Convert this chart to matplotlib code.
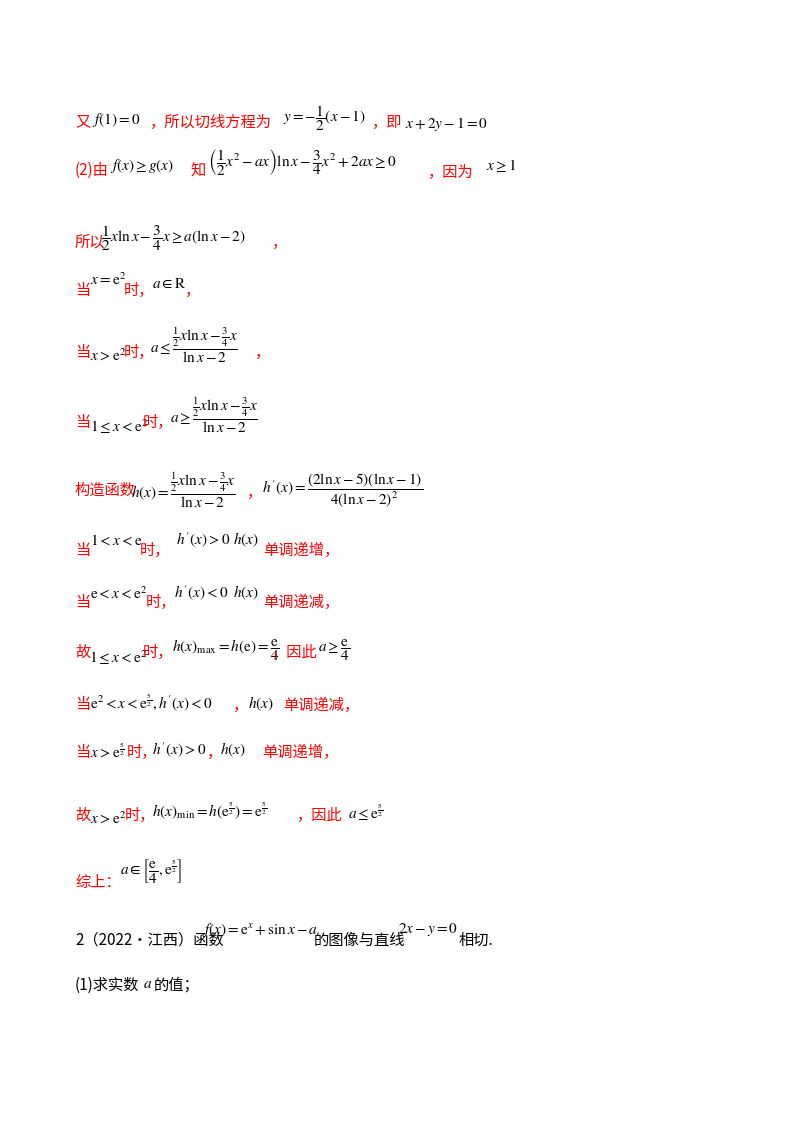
import matplotlib.pyplot as plt

plt.rcParams["mathtext.fontset"] = "stix"
CJK = ["Noto Sans CJK SC", "DejaVu Sans"]
RED = "#FF0000"
BLACK = "#000000"

# each row: (x_px, y_px, text, colour)
rows = [
    [(75, 122, "又", RED), (92, 120, r"$f(1)=0$", BLACK), (150, 122, "，所以切线方程为", RED),
     (283, 118, r"$y=-\dfrac{1}{2}(x-1)$", BLACK), (372, 122, "，即", RED), (405, 124, r"$x+2y-1=0$", BLACK)],
    [(75, 170, "(2)由", RED), (110, 166, r"$f(x)\geq g(x)$", BLACK), (190, 170, "知", RED),
     (208, 162, r"$\left(\dfrac{1}{2}x^2-ax\right)\ln x-\dfrac{3}{4}x^2+2ax\geq 0$", BLACK),
     (428, 172, "，因为", RED), (486, 166, r"$x\geq 1$", BLACK)],
    [(75, 242, "所以", RED), (101, 238, r"$\dfrac{1}{2}x\ln x-\dfrac{3}{4}x\geq a(\ln x-2)$", BLACK),
     (272, 242, "，", RED)],
    [(75, 290, "当", RED), (90, 280, r"$x=\mathrm{e}^2$", BLACK), (124, 290, "时，", RED),
     (152, 284, r"$a\in\mathrm{R}$", BLACK), (185, 290, "，", RED)],
    [(75, 352, "当", RED), (90, 355, r"$x>\mathrm{e}^2$", BLACK), (124, 352, "时，", RED),
     (150, 345, r"$a\leq\dfrac{\frac{1}{2}x\ln x-\frac{3}{4}x}{\ln x-2}$", BLACK), (255, 352, "，", RED)],
    [(75, 422, "当", RED), (90, 427, r"$1\leq x<\mathrm{e}^2$", BLACK), (143, 422, "时，", RED),
     (170, 415, r"$a\geq\dfrac{\frac{1}{2}x\ln x-\frac{3}{4}x}{\ln x-2}$", BLACK)],
    [(75, 490, "构造函数", RED), (131, 490, r"$h(x)=\dfrac{\frac{1}{2}x\ln x-\frac{3}{4}x}{\ln x-2}$", BLACK),
     (247, 492, "，", RED), (262, 490, r"$h'(x)=\dfrac{(2\ln x-5)(\ln x-1)}{4(\ln x-2)^2}$", BLACK)],
    [(75, 550, "当", RED), (90, 540, r"$1<x<\mathrm{e}$", BLACK), (140, 550, "时，", RED),
     (176, 540, r"$h'(x)>0$", BLACK), (233, 540, r"$h(x)$", BLACK), (263, 550, "单调递增，", RED)],
    [(75, 602, "当", RED), (90, 593, r"$\mathrm{e}<x<\mathrm{e}^2$", BLACK), (146, 602, "时，", RED),
     (174, 593, r"$h'(x)<0$", BLACK), (233, 593, r"$h(x)$", BLACK), (263, 602, "单调递减，", RED)],
    [(75, 652, "故", RED), (89, 658, r"$1\leq x<\mathrm{e}^2$", BLACK), (143, 652, "时，", RED),
     (172, 650, r"$h(x)_{\max}=h(\mathrm{e})=\dfrac{\mathrm{e}}{4}$", BLACK), (272, 652, "，因此", RED),
     (318, 650, r"$a\geq\dfrac{\mathrm{e}}{4}$", BLACK)],
    [(75, 705, "当", RED), (90, 702, r"$\mathrm{e}^2<x<\mathrm{e}^{\frac{5}{2}},h'(x)<0$", BLACK),
     (233, 705, "，", RED), (248, 704, r"$h(x)$", BLACK), (283, 705, "单调递减，", RED)],
    [(75, 752, "当", RED), (90, 750, r"$x>\mathrm{e}^{\frac{5}{2}}$", BLACK), (127, 752, "时，", RED),
     (152, 750, r"$h'(x)>0$", BLACK), (207, 752, "，", RED), (220, 750, r"$h(x)$", BLACK),
     (262, 752, "单调递增，", RED)],
    [(75, 815, "故", RED), (90, 818, r"$x>\mathrm{e}^2$", BLACK), (125, 815, "时，", RED),
     (152, 810, r"$h(x)_{\min}=h\left(\mathrm{e}^{\frac{5}{2}}\right)=\mathrm{e}^{\frac{5}{2}}$", BLACK),
     (297, 815, "，因此", RED), (348, 812, r"$a\leq\mathrm{e}^{\frac{5}{2}}$", BLACK)],
    [(75, 882, "综上：", RED), (120, 872, r"$a\in\left[\dfrac{\mathrm{e}}{4},\mathrm{e}^{\frac{5}{2}}\right]$", BLACK)],
    [(75, 940, "2（2022·江西）函数", BLACK), (202, 930, r"$f(x)=\mathrm{e}^x+\sin x-a$", BLACK),
     (314, 940, "的图像与直线", BLACK), (398, 930, r"$2x-y=0$", BLACK), (459, 940, "相切.", BLACK)],
    [(75, 985, "(1)求实数", BLACK), (143, 984, r"$a$", BLACK), (154, 985, "的值；", BLACK)],
]

W, H = 800, 1132
fig = plt.figure(figsize=(W / 100, H / 100), dpi=100)
fig.patch.set_facecolor("white")

for row in rows:
    for x, y, text, colour in row:
        is_math = text.startswith("$")
        fig.text(x / W, 1 - y / H, text, color=colour, va="center", ha="left",
                 fontsize=11 if is_math else 11, family=None if is_math else CJK)

fig.savefig("out.png", dpi=100, facecolor="white")
